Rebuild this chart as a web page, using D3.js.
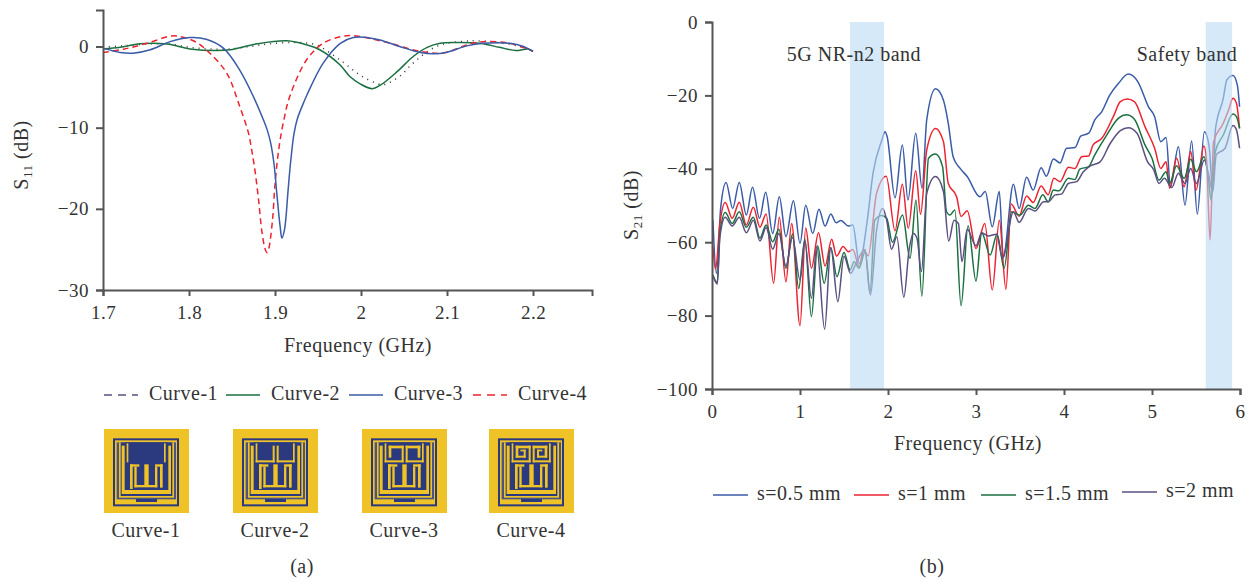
<!DOCTYPE html>
<html lang="en">
<head>
    <meta charset="UTF-8">
    <title>S11 and S21 of the antenna curves</title>
    <script src="https://d3js.org/d3.v7.min.js"></script>
    <style>
        body { margin: 0; background: #fff; }
        text { font-family: "Liberation Serif", serif; fill: #333; font-size: 20px; letter-spacing: 0.5px; }
        .domain, .tick line { stroke: #555; stroke-width: 2; }
    </style>
</head>
<body>
    <svg id="chart" width="1250" height="582"></svg>
    <script>
        // Panel (a): S11, [GHz, dB]
        const curve1 = [[1.7,-.1],[1.724,.1],[1.755,.33],[1.778,.3],[1.801,-.1],[1.824,-.3],[1.848,-.3],[1.871,0],[1.894,.33],[1.925,.5],[1.948,.2],[1.964,-.8],[1.98,-2],[1.992,-3],[2.005,-3.9],[2.02,-4.6],[2.026,-4.7],[2.034,-4.4],[2.047,-3.5],[2.058,-2.3],[2.07,-1.2],[2.082,-.3],[2.096,.3],[2.12,.65],[2.135,.7],[2.158,.5],[2.185,0],[2.2,-.6]];
        const curve2 = [[1.7,-.3],[1.72,-.1],[1.743,.33],[1.774,.3],[1.801,-.3],[1.832,-.5],[1.848,-.4],[1.879,.33],[1.914,.7],[1.937,.2],[1.952,-.4],[1.976,-2.3],[1.987,-3.7],[1.999,-4.6],[2.013,-5.2],[2.022,-4.8],[2.042,-3.1],[2.061,-1.2],[2.077,-.1],[2.092,.4],[2.11,.5],[2.138,.4],[2.161,-.1],[2.18,-.5],[2.194,-.3],[2.2,-.6]];
        const curve3 = [[1.7,-.2],[1.72,-.74],[1.735,-.82],[1.755,-.4],[1.778,.6],[1.801,1.1],[1.82,.9],[1.84,-.2],[1.859,-2.9],[1.875,-6.2],[1.886,-8.9],[1.891,-10.3],[1.895,-11.9],[1.899,-14.6],[1.902,-18],[1.906,-22.2],[1.908,-23.6],[1.911,-22.6],[1.915,-18],[1.917,-15.5],[1.919,-13.4],[1.922,-10.8],[1.926,-8.9],[1.931,-7.5],[1.937,-6],[1.956,-2.05],[1.976,.4],[1.991,1.1],[2.003,1.15],[2.022,.8],[2.045,0],[2.069,-.74],[2.084,-.9],[2.1,-.7],[2.123,.08],[2.142,.4],[2.173,.4],[2.189,0],[2.2,-.6]];
        const curve4 = [[1.7,-.74],[1.724,-.33],[1.751,.4],[1.78,1.3],[1.793,1.15],[1.809,.5],[1.824,-.8],[1.844,-3.3],[1.859,-7.4],[1.869,-10.6],[1.873,-12.8],[1.877,-15.5],[1.881,-19],[1.885,-23],[1.889,-25.1],[1.891,-25.4],[1.893,-24.8],[1.897,-21.5],[1.9,-17],[1.903,-13.8],[1.906,-11.5],[1.91,-9.2],[1.917,-6.2],[1.937,-1.6],[1.956,.4],[1.976,1.2],[1.987,1.35],[2.003,1.15],[2.034,.4],[2.069,-.6],[2.096,-.8],[2.123,.2],[2.142,.6],[2.173,.4],[2.2,-.6]];

        // Panel (b): S21, [GHz, dB]
        const s05 = [[.01,-53.9],[.05,-68.5],[.1,-50.3],[.16,-43.7],[.235,-50.8],[.31,-43.7],[.39,-52.6],[.46,-45],[.54,-53.5],[.61,-46.4],[.69,-57.6],[.765,-47.6],[.84,-58.5],[.925,-48.7],[1,-60.3],[1.065,-49.9],[1.145,-57.6],[1.215,-51],[1.285,-55.6],[1.35,-52.3],[1.41,-54.7],[1.465,-54.1],[1.55,-55.6],[1.6,-55.3],[1.675,-65.8],[1.76,-54.9],[1.83,-41.2],[1.93,-32.2],[1.966,-29.9],[1.99,-31.2],[2.08,-47.9],[2.163,-33.5],[2.227,-48.5],[2.315,-30.3],[2.387,-45.3],[2.44,-26.7],[2.54,-18.2],[2.63,-21.3],[2.685,-27.6],[2.74,-36.7],[2.82,-39.9],[2.9,-42.1],[3.045,-47.6],[3.105,-46.2],[3.185,-55.8],[3.265,-46.2],[3.31,-64],[3.425,-44.2],[3.49,-50.8],[3.575,-42.3],[3.65,-45.8],[3.74,-39.7],[3.8,-42],[3.88,-37.3],[3.955,-38.4],[4.03,-34.4],[4.125,-34.2],[4.19,-31.1],[4.28,-30.3],[4.35,-26.7],[4.43,-24.4],[4.52,-19.9],[4.62,-16.7],[4.73,-14.2],[4.84,-16.3],[4.96,-23.1],[5.03,-25.8],[5.1,-32.6],[5.16,-31.5],[5.21,-44.9],[5.3,-34],[5.375,-49.9],[5.45,-32.4],[5.515,-52.3],[5.595,-29.9],[5.65,-34],[5.69,-46.2],[5.72,-29.4],[5.81,-20.8],[5.85,-15.8],[5.92,-14.6],[5.97,-17.2],[5.995,-23.1]];
        const s1 = [[.01,-61.2],[.04,-67.4],[.09,-54.9],[.15,-49.2],[.23,-53.5],[.31,-49.1],[.39,-55.3],[.47,-50.5],[.545,-55.9],[.615,-52.3],[.7,-71.2],[.765,-53.2],[.84,-70.8],[.905,-54.9],[1,-82.7],[1.065,-56.1],[1.13,-67.1],[1.21,-57.4],[1.285,-66.5],[1.36,-59.2],[1.415,-63.8],[1.49,-61.2],[1.55,-62.6],[1.6,-62],[1.675,-66.7],[1.72,-62.1],[1.775,-63.7],[1.87,-46.7],[1.98,-42],[2.08,-56.9],[2.163,-44.2],[2.23,-56.2],[2.315,-40.5],[2.37,-52.4],[2.44,-34.9],[2.54,-29],[2.63,-32.6],[2.685,-44],[2.78,-47.6],[2.83,-53],[2.9,-51.4],[3,-61.7],[3.1,-54.9],[3.185,-73],[3.265,-54],[3.34,-72.8],[3.4,-49.6],[3.49,-52.9],[3.575,-47.4],[3.65,-49.2],[3.74,-44.7],[3.82,-47.1],[3.885,-42.6],[3.955,-43.5],[4.05,-39.6],[4.125,-39.9],[4.2,-36.7],[4.28,-36.5],[4.33,-33.5],[4.43,-31.7],[4.56,-25.8],[4.64,-21.7],[4.72,-21],[4.8,-21.7],[4.92,-28.5],[5.03,-34.4],[5.1,-39.9],[5.16,-38.1],[5.2,-45.3],[5.28,-37.1],[5.365,-44.9],[5.44,-35.3],[5.5,-45.8],[5.59,-33.8],[5.62,-37.6],[5.66,-59.4],[5.7,-32.6],[5.81,-27.6],[5.87,-24],[5.92,-20.8],[5.96,-22.2],[5.995,-29]];
        const s15 = [[.01,-69],[.06,-71],[.09,-57.6],[.15,-51.9],[.23,-54.9],[.31,-51.7],[.39,-55.9],[.47,-53.2],[.545,-58.9],[.615,-55.3],[.69,-59.9],[.76,-56.5],[.84,-67.1],[.915,-57.8],[.985,-72.6],[1.055,-59.2],[1.13,-80.3],[1.2,-61],[1.275,-71.2],[1.35,-61.5],[1.42,-69.4],[1.5,-62.8],[1.57,-67.6],[1.615,-65.3],[1.67,-67.1],[1.74,-62.6],[1.795,-73.9],[1.85,-54],[1.93,-52.7],[1.985,-53.5],[2.05,-60],[2.165,-52.6],[2.25,-64.4],[2.318,-48.5],[2.385,-74.7],[2.46,-37.1],[2.54,-36],[2.62,-39.4],[2.665,-51.7],[2.705,-52.6],[2.76,-51.2],[2.83,-77.3],[2.91,-55.5],[3,-70.6],[3.065,-57.4],[3.16,-63.5],[3.24,-57.8],[3.32,-67.1],[3.405,-51.7],[3.5,-52.6],[3.595,-49.9],[3.67,-50.8],[3.76,-47.1],[3.82,-49],[3.88,-45.8],[3.94,-46],[4.05,-42.6],[4.125,-42.9],[4.18,-40.1],[4.28,-39.4],[4.35,-36.2],[4.485,-30.8],[4.62,-26.2],[4.71,-25.3],[4.8,-26.5],[4.92,-33.5],[5,-37.1],[5.08,-43.1],[5.16,-40.8],[5.2,-44],[5.28,-39.2],[5.365,-42.6],[5.44,-37.4],[5.505,-40.8],[5.59,-36.7],[5.64,-42.2],[5.67,-48.5],[5.72,-35.3],[5.81,-30.8],[5.92,-25.1],[5.96,-25.8],[5.995,-29]];
        const s2 = [[.01,-69],[.06,-71.4],[.09,-58.5],[.15,-53.2],[.23,-55.6],[.31,-53.2],[.39,-57.4],[.47,-54],[.545,-59.7],[.615,-56],[.69,-61.9],[.76,-57.6],[.84,-66.5],[.915,-58.7],[1,-70.3],[1.055,-59.7],[1.13,-75.3],[1.19,-61.2],[1.28,-83.7],[1.35,-61.5],[1.43,-76.2],[1.5,-63.8],[1.575,-68.5],[1.645,-65.3],[1.74,-62],[1.8,-74.4],[1.87,-56.7],[1.94,-50.8],[1.985,-54],[2.04,-61.9],[2.1,-58.5],[2.18,-75],[2.24,-62],[2.29,-57.6],[2.33,-59],[2.38,-68],[2.44,-46.7],[2.54,-42.1],[2.63,-46.2],[2.69,-59.7],[2.75,-54],[2.8,-54.9],[2.84,-65.3],[2.9,-56.5],[3,-61],[3.065,-57.4],[3.14,-58.3],[3.235,-57.8],[3.3,-64.4],[3.425,-51.7],[3.49,-54.6],[3.595,-50.8],[3.67,-51.5],[3.77,-49],[3.82,-49],[3.9,-47.1],[3.97,-46.9],[4.05,-44],[4.145,-43.5],[4.22,-40.8],[4.3,-39.2],[4.41,-38.1],[4.525,-33.1],[4.64,-29.6],[4.73,-28.8],[4.83,-30.3],[4.95,-38.1],[5.02,-40.3],[5.08,-44],[5.14,-42.6],[5.225,-45.1],[5.3,-41.2],[5.375,-44],[5.44,-39.9],[5.505,-44],[5.595,-37.6],[5.64,-41.2],[5.69,-46.2],[5.73,-36.2],[5.83,-34.4],[5.92,-28.2],[5.96,-29.4],[5.995,-34.4]];

        const curveNames = ["Curve-1", "Curve-2", "Curve-3", "Curve-4"];
        const sNames = ["s=0.5 mm", "s=1 mm", "s=1.5 mm", "s=2 mm"];
        const xTicksA = [1.7, 1.8, 1.9, 2, 2.1, 2.2];
        const yTicksA = [0, -10, -20, -30];
        const xTicksB = [0, 1, 2, 3, 4, 5, 6];
        const yTicksB = [0, -20, -40, -60, -80, -100];
        const bands = [[1.568, 1.955, "5G NR-n2 band"], [5.61, 5.91, "Safety band"]];

        const BLUE = "#3a5ba8", RED = "#ed2331", GREEN = "#1a7040", PURPLE = "#5c4f82";
        const GOLD = "#efc327", NAVY = "#2b3a7e";

        const svg = d3.select("#chart");
        const minus = d => String(d).replace("-", "\u2212");

        // scales
        const xA = d3.scaleLinear().domain([1.7, 2.2686]).range([103, 592]);
        const yA = d3.scaleLinear().domain([-30, 4.5]).range([290, 10]);
        const xB = d3.scaleLinear().domain([0, 6]).range([712, 1240]);
        const yB = d3.scaleLinear().domain([-100, 0]).range([389, 22]);

        function drawAxes(x, y, xTicks, yTicks, xY, yX) {
            svg.append("g").attr("transform", `translate(0,${xY})`)
                .call(d3.axisBottom(x).tickValues(xTicks).tickSizeOuter(0).tickSize(6).tickPadding(10).tickFormat(d => d))
                .call(g => g.selectAll("text").style("font-size", "19px"));
            svg.append("g").attr("transform", `translate(${yX},0)`)
                .call(d3.axisLeft(y).tickValues(yTicks).tickSizeOuter(0).tickSize(7).tickPadding(7).tickFormat(minus))
                .call(g => g.selectAll("text").style("font-size", "19px"));
        }

        function drawLine(data, x, y, color, dash, curve) {
            const line = d3.line().x(d => x(d[0])).y(d => y(d[1])).curve(curve || d3.curveMonotoneX);
            svg.append("path").datum(data).attr("d", line)
                .attr("fill", "none").attr("stroke", color)
                .attr("stroke-width", 1.5)
                .attr("stroke-dasharray", dash || null);
        }

        function yLabel(cx, cy, sub) {
            const t = svg.append("text").attr("text-anchor", "middle")
                .attr("transform", `translate(${cx},${cy}) rotate(-90)`);
            t.append("tspan").text("S");
            t.append("tspan").text(sub).attr("dy", 4).style("font-size", "13px");
            t.append("tspan").text(" (dB)").attr("dy", -4);
        }

        function label(txt, x, y, anchor) {
            svg.append("text").attr("x", x).attr("y", y)
                .attr("text-anchor", anchor || "middle").text(txt);
        }

        // panel (a)
        const smooth = d3.curveCatmullRom.alpha(0.5);
        drawLine(curve1, xA, yA, "#333", "1 5", smooth);
        drawLine(curve2, xA, yA, GREEN, null, smooth);
        drawLine(curve4, xA, yA, RED, "6 4", smooth);
        drawLine(curve3, xA, yA, BLUE, null, smooth);
        drawAxes(xA, yA, xTicksA, yTicksA, 290, 103);
        yLabel(28, 155, "11");
        label("Frequency (GHz)", 358, 352);

        const legendXA = [104, 226, 349, 473];
        const legendStyleA = [[PURPLE, "8 6"], [GREEN, null], [BLUE, null], [RED, "8 6"]];
        curveNames.forEach((name, i) => {
            svg.append("line").attr("x1", legendXA[i]).attr("x2", legendXA[i] + 34)
                .attr("y1", 395).attr("y2", 395)
                .attr("stroke", legendStyleA[i][0]).attr("stroke-width", 1.5)
                .attr("stroke-dasharray", legendStyleA[i][1]);
            label(name, legendXA[i] + 45, 400, "start");
        });

        // antenna thumbnails, local units are 1/3 px
        function thumb(ox, kind) {
            const g = svg.append("g").attr("transform", `translate(${ox},425) scale(${1 / 3})`);
            const r = (x, y, w, h, c) => g.append("rect").attr("x", x).attr("y", y)
                .attr("width", w).attr("height", h).attr("fill", c);
            r(12, 12, 255, 252, GOLD);
            g.append("rect").attr("x", 42).attr("y", 43).attr("width", 192).attr("height", 198)
                .attr("fill", "none").attr("stroke", NAVY).attr("stroke-width", 6);
            r(50, 52, 178, 171, "#4a5480");
            r(57, 52, 165, 166, GOLD);
            r(62, 52, 155, 161, NAVY);
            r(65, 62, 148, 145, GOLD);
            r(74, 52, 131, 143, NAVY);
            r(108, 222, 63, 9, NAVY);
            // top patch outline
            r(80, 55, 5, 57, GOLD);
            r(192, 55, 5, 57, GOLD);
            if (kind > 0) {
                r(80, 106, 57, 6, GOLD);
                r(143, 106, 54, 6, GOLD);
                r(131, 62, 6, 50, GOLD);
                r(143, 62, 6, 50, GOLD);
            }
            if (kind > 1) {
                r(92, 62, 45, 8, GOLD);
                r(92, 62, 8, 36, GOLD);
                r(143, 62, 44, 8, GOLD);
                r(179, 62, 8, 36, GOLD);
            }
            if (kind > 2) {
                // spiral ends
                r(92, 92, 30, 6, GOLD);
                r(116, 74, 6, 24, GOLD);
                r(106, 74, 16, 5, GOLD);
                r(156, 92, 30, 6, GOLD);
                r(156, 74, 6, 24, GOLD);
                r(156, 74, 16, 5, GOLD);
            }
            // comb
            r(90, 118, 8, 74, GOLD);
            r(180, 118, 8, 70, GOLD);
            r(90, 118, 28, 7, GOLD);
            r(165, 118, 23, 7, GOLD);
            r(103, 125, 7, 62, GOLD);
            r(165, 125, 7, 62, GOLD);
            r(103, 180, 69, 7, GOLD);
            r(133, 118, 13, 62, GOLD);
        }
        [100, 229, 358, 485].forEach((ox, i) => thumb(ox, i));
        [146, 275, 404, 531].forEach((cx, i) => label(curveNames[i], cx, 537));
        label("(a)", 302, 573);

        // panel (b)
        drawLine(s05, xB, yB, BLUE);
        drawLine(s1, xB, yB, RED);
        drawLine(s15, xB, yB, GREEN);
        drawLine(s2, xB, yB, PURPLE);
        // the bands sit over the lines
        svg.selectAll("rect.band").data(bands).enter().append("rect")
            .attr("class", "band")
            .attr("x", d => xB(d[0])).attr("width", d => xB(d[1]) - xB(d[0]))
            .attr("y", yB(0)).attr("height", yB(-100) - yB(0))
            .attr("fill", "#bbdaf3").attr("fill-opacity", 0.6);
        drawAxes(xB, yB, xTicksB, yTicksB, 389, 712);
        yLabel(638, 205, "21");
        label("Frequency (GHz)", 968, 450);
        label(bands[0][2], 854, 61);
        label(bands[1][2], 1187, 61);

        const legendXB = [713, 854, 981, 1122];
        const legendYB = [495, 495, 495, 492];
        const sColors = [BLUE, RED, GREEN, PURPLE];
        sNames.forEach((name, i) => {
            svg.append("line").attr("x1", legendXB[i]).attr("x2", legendXB[i] + 35)
                .attr("y1", legendYB[i]).attr("y2", legendYB[i])
                .attr("stroke", sColors[i]).attr("stroke-width", 1.5);
            label(name, legendXB[i] + 44, legendYB[i] + 5, "start");
        });
        label("(b)", 932, 573);
    </script>
</body>
</html>
